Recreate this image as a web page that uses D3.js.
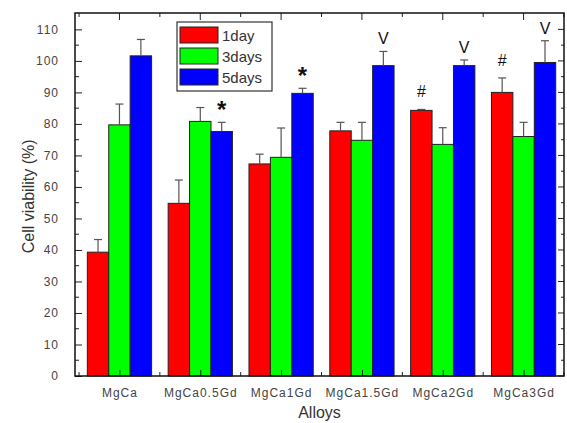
<!DOCTYPE html>
<html>
<head>
<meta charset="utf-8">
<script src="https://cdn.jsdelivr.net/npm/d3@7"></script>
<style>
  body { margin: 0; background: #fff; }
  svg { display: block; font-family: 'Liberation Sans', Arial, sans-serif; }
  .tick text { fill: #444; font-size: 12px; letter-spacing: 1px; }
  .axis-label { fill: #333; font-size: 16px; }
</style>
</head>
<body>
<svg width="567" height="423"></svg>
<script>
const categories = ['MgCa', 'MgCa0.5Gd', 'MgCa1Gd', 'MgCa1.5Gd', 'MgCa2Gd', 'MgCa3Gd'];
const seriesNames = ['1day', '3days', '5days'];
const day1 = [39.3, 54.8, 67.3, 77.8, 84.3, 90.0];
const day1Err = [4.0, 7.4, 3.1, 2.7, 0.3, 4.6];
const day3 = [79.7, 80.8, 69.4, 74.8, 73.5, 76.0];
const day3Err = [6.6, 4.4, 9.3, 5.7, 5.3, 4.5];
const day5 = [101.6, 77.6, 89.7, 98.5, 98.5, 99.5];
const day5Err = [5.2, 2.9, 1.6, 4.5, 1.8, 6.9];
const yTicks = [0, 10, 20, 30, 40, 50, 60, 70, 80, 90, 100, 110];
// significance marks: [category index, series index, symbol]
const marks = [
  [1, 2, '*'], [2, 2, '*'],
  [3, 2, 'V'], [4, 2, 'V'], [5, 2, 'V'],
  [4, 0, '#'], [5, 0, '#']
];

const colors = ['#ff0000', '#00ff00', '#0000ff'];
const values = [day1, day3, day5];
const errors = [day1Err, day3Err, day5Err];

const svg = d3.select('svg');
const margin = { left: 75, right: 3, top: 13, bottom: 47 };
const width = +svg.attr('width');
const height = +svg.attr('height');
const innerWidth = width - margin.left - margin.right;
const innerHeight = height - margin.top - margin.bottom;

const xScale = d3.scaleLinear().domain([0.45, 6.5]).range([0, innerWidth]);
const yScale = d3.scaleLinear().domain([0, 115.2]).range([innerHeight, 0]);
const barW = xScale(1.265) - xScale(1);

const g = svg.append('g').attr('transform', `translate(${margin.left},${margin.top})`);

// bars
const rows = [];
categories.forEach((c, i) => {
  values.forEach((vals, s) => {
    rows.push({ i, s, v: vals[i], e: errors[s][i] });
  });
});
const barX = d => xScale(d.i + 1) + (d.s - 1.5) * barW;

g.selectAll('rect.bar').data(rows).enter().append('rect')
  .attr('class', 'bar')
  .attr('x', barX)
  .attr('y', d => yScale(d.v))
  .attr('width', barW)
  .attr('height', d => innerHeight - yScale(d.v))
  .attr('fill', d => colors[d.s])
  .attr('stroke', '#222')
  .attr('stroke-width', 1);

// error bars (upper only)
const err = g.selectAll('g.err').data(rows).enter().append('g').attr('class', 'err')
  .attr('stroke', '#555').attr('stroke-width', 1.2);
err.append('line')
  .attr('x1', d => barX(d) + barW / 2).attr('x2', d => barX(d) + barW / 2)
  .attr('y1', d => yScale(d.v)).attr('y2', d => yScale(d.v + d.e));
err.append('line')
  .attr('x1', d => barX(d) + barW / 2 - 4).attr('x2', d => barX(d) + barW / 2 + 4)
  .attr('y1', d => yScale(d.v + d.e)).attr('y2', d => yScale(d.v + d.e));

// significance marks
const markLift = { '*': 4, 'V': 7, '#': 12 };
g.selectAll('text.mark').data(marks).enter().append('text')
  .attr('class', 'mark')
  .attr('x', d => barX({ i: d[0], s: d[1] }) + barW / 2)
  .attr('y', d => yScale(values[d[1]][d[0]] + errors[d[1]][d[0]]) - markLift[d[2]])
  .attr('text-anchor', 'middle')
  .attr('fill', '#111')
  .style('font-size', d => d[2] === '*' ? '24px' : '16px')
  .style('font-weight', d => d[2] === '*' ? 'bold' : 'normal')
  .text(d => d[2]);

// axes
const xTicksMajor = d3.range(1, 7);
const xTicksMinor = d3.range(0.5, 7, 1);
const yAxis = d3.axisLeft(yScale).tickValues(yTicks).tickSize(-7).tickPadding(16);
const yAxisG = g.append('g').call(yAxis);
yAxisG.select('.domain').remove();
yAxisG.selectAll('.tick line').attr('stroke', '#222');

const yMinor = d3.range(5, 115, 10);
g.append('g').selectAll('line').data(yMinor).enter().append('line')
  .attr('x1', 0).attr('x2', 4)
  .attr('y1', d => yScale(d)).attr('y2', d => yScale(d)).attr('stroke', '#222');
const rightG = g.append('g').attr('transform', `translate(${innerWidth},0)`);
rightG.selectAll('line.maj').data(yTicks).enter().append('line')
  .attr('x1', 0).attr('x2', -6)
  .attr('y1', d => yScale(d)).attr('y2', d => yScale(d)).attr('stroke', '#222');
rightG.selectAll('line.min').data(yMinor).enter().append('line')
  .attr('x1', 0).attr('x2', -3)
  .attr('y1', d => yScale(d)).attr('y2', d => yScale(d)).attr('stroke', '#222');

const xAxis = d3.axisBottom(xScale).tickValues(xTicksMajor)
  .tickFormat(d => categories[d - 1]).tickSize(-6).tickPadding(12);
const xAxisG = g.append('g').attr('transform', `translate(0,${innerHeight})`).call(xAxis);
xAxisG.select('.domain').remove();
xAxisG.selectAll('.tick line').attr('stroke', '#222');
xAxisG.selectAll('line.min').data(xTicksMinor).enter().append('line')
  .attr('x1', d => xScale(d)).attr('x2', d => xScale(d))
  .attr('y1', 0).attr('y2', -4).attr('stroke', '#222');

const topG = g.append('g');
topG.selectAll('line.maj').data(xTicksMajor).enter().append('line')
  .attr('x1', d => xScale(d)).attr('x2', d => xScale(d))
  .attr('y1', 0).attr('y2', 7).attr('stroke', '#222');
topG.selectAll('line.min').data(xTicksMinor).enter().append('line')
  .attr('x1', d => xScale(d)).attr('x2', d => xScale(d))
  .attr('y1', 0).attr('y2', 4).attr('stroke', '#222');

// frame
g.append('rect')
  .attr('width', innerWidth).attr('height', innerHeight)
  .attr('fill', 'none').attr('stroke', '#111').attr('stroke-width', 1.5);

// axis titles
g.append('text')
  .attr('class', 'axis-label')
  .attr('transform', 'rotate(-90)')
  .attr('x', -(yScale(57)))
  .attr('y', -41)
  .attr('text-anchor', 'middle')
  .text('Cell viability (%)');

g.append('text')
  .attr('class', 'axis-label')
  .attr('x', innerWidth / 2)
  .attr('y', innerHeight + 42)
  .attr('text-anchor', 'middle')
  .text('Alloys');

// legend
const legend = svg.append('g').attr('transform', 'translate(177,22)');
legend.append('rect')
  .attr('width', 95).attr('height', 69)
  .attr('fill', '#fff').attr('stroke', '#333').attr('stroke-width', 1.2);
seriesNames.forEach((name, s) => {
  legend.append('rect')
    .attr('x', 3).attr('y', 5 + s * 21)
    .attr('width', 38).attr('height', 16)
    .attr('fill', colors[s]).attr('stroke', '#222');
  legend.append('text')
    .attr('x', 45).attr('y', 19 + s * 21)
    .attr('fill', '#333')
    .style('font-size', '15px')
    .text(name);
});
</script>
</body>
</html>
